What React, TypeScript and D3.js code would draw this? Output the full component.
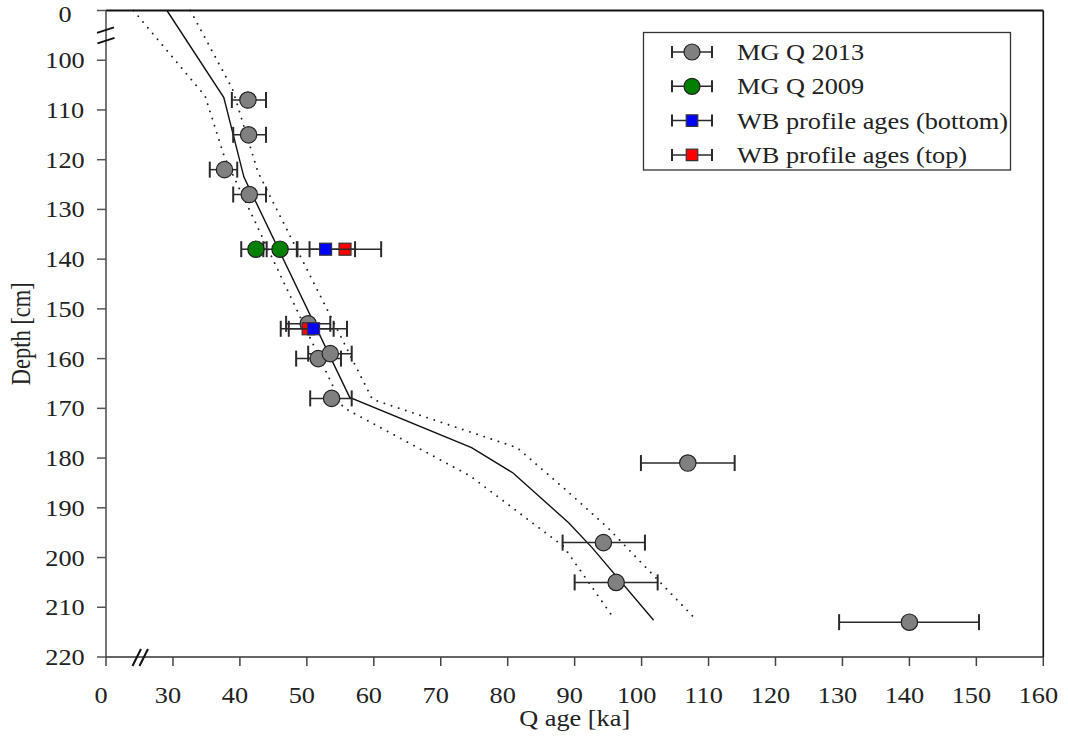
import * as d3 from "d3";

const W = 1068;
const H = 743;

// model age-depth curve (solid) and its bounds (dotted)
const modelAge = [29.1, 37.6, 40.6, 56.4, 74.6, 80.8, 89.1, 92.6, 101.8];
const modelDepth = [0, 107.5, 123.5, 167.8, 177.9, 183.0, 193.0, 198.0, 212.6];
const lowerAge = [24.1, 34.8, 37.7, 55.4, 74.4, 88.3, 96.0];
const lowerDepth = [0, 107.2, 119.5, 169.8, 183.6, 197.7, 212.5];
const upperAge = [32.6, 38.9, 42.7, 59.8, 81.4, 88.6, 94.8, 108.0];
const upperDepth = [0, 105.8, 122.5, 168.2, 177.9, 186.3, 193.8, 212.3];

// MG Q 2013
const mg2013Age = [41.2, 41.3, 37.7, 41.4, 50.2, 51.7, 53.5, 53.7, 106.9, 94.3, 96.2, 140.0];
const mg2013Depth = [108, 115, 122, 127, 153, 160, 159, 168, 181, 197, 205, 213];
const mg2013Lo = [38.8, 39.0, 35.5, 39.0, 46.9, 48.4, 50.2, 50.5, 99.9, 88.2, 90.0, 129.5];
const mg2013Hi = [43.9, 43.9, 39.6, 43.9, 53.5, 55.1, 56.7, 56.7, 113.9, 100.5, 102.4, 150.4];

// MG Q 2009
const mg2009Age = [42.4, 46.0];
const mg2009Depth = [138, 138];
const mg2009Lo = [40.2, 43.5];
const mg2009Hi = [44.0, 48.6];

// WB profile ages (bottom)
const wbBottomAge = [52.8, 51.0];
const wbBottomDepth = [138, 154];
const wbBottomLo = [48.5, 46.1];
const wbBottomHi = [57.2, 56.0];

// WB profile ages (top)
const wbTopAge = [55.7, 50.2];
const wbTopDepth = [138, 154];
const wbTopLo = [50.4, 47.3];
const wbTopHi = [61.1, 54.0];

const xTicks = [0, 30, 40, 50, 60, 70, 80, 90, 100, 110, 120, 130, 140, 150, 160];
const yTicks = [0, 100, 110, 120, 130, 140, 150, 160, 170, 180, 190, 200, 210, 220];

const legendLabels = ["MG Q 2013", "MG Q 2009", "WB profile ages (bottom)", "WB profile ages (top)"];

const FONT = "'Liberation Serif', 'Times New Roman', serif";
const STRETCH = 1.17;

function SText({ x, y, anchor = "start", size = 22.5, rotate = false, children }) {
  const tf = rotate
    ? `translate(${x},${y}) rotate(-90) scale(1,${STRETCH})`
    : `translate(${x},${y}) scale(${STRETCH},1)`;
  return (
    <text transform={tf} textAnchor={anchor} fontFamily={FONT} fontSize={size} fill="#222">
      {children}
    </text>
  );
}

function ErrBar({ x1, x2, y, h = 8 }) {
  return (
    <g stroke="#2a2a2a">
      <line x1={x1} x2={x2} y1={y} y2={y} strokeWidth={1.5} />
      <line x1={x1} x2={x1} y1={y - h} y2={y + h} strokeWidth={2} />
      <line x1={x2} x2={x2} y1={y - h} y2={y + h} strokeWidth={2} />
    </g>
  );
}

function Marker({ kind, color, cx, cy, r = 8.2, s = 12 }) {
  if (kind === "circle")
    return <circle cx={cx} cy={cy} r={r} fill={color} stroke="#222" strokeWidth={1.2} />;
  return <rect x={cx - s / 2} y={cy - s / 2} width={s} height={s} fill={color} stroke="#333" strokeWidth={1.2} />;
}

export default function App() {
  const x = d3.scaleLinear().domain([0, 20, 160]).range([106, 106, 1043.3]);
  const y = d3.scaleLinear().domain([0, 90, 220]).range([10.5, 10.5, 657]);

  const line = d3.line<number>()
    .x(d => d[0])
    .y(d => d[1]);

  const path = (ages, depths) => line(ages.map((a, i) => [x(a), y(depths[i])]));

  const series = [
    { kind: "circle", color: "#808080", age: mg2013Age, depth: mg2013Depth, lo: mg2013Lo, hi: mg2013Hi },
    { kind: "circle", color: "#007f00", age: mg2009Age, depth: mg2009Depth, lo: mg2009Lo, hi: mg2009Hi },
    { kind: "square", color: "#ff0000", age: wbTopAge, depth: wbTopDepth, lo: wbTopLo, hi: wbTopHi },
    { kind: "square", color: "#0000ff", age: wbBottomAge, depth: wbBottomDepth, lo: wbBottomLo, hi: wbBottomHi },
  ];
  const legendSeries = [series[0], series[1], series[3], series[2]];

  const x0 = x(0), x1 = x(160), y0 = y(0), y1 = y(220);
  const yBreak = (y(0) + y(100)) / 2;
  const xBreak = (x(0) + x(30)) / 2;

  return (
    <svg width={W} height={H} style={{ position: "absolute", left: 0, top: 0, background: "#fff" }}>
      {/* model curves */}
      <path d={path(lowerAge, lowerDepth)} fill="none" stroke="#222" strokeWidth={1.9} strokeDasharray="0.01 7.5" strokeLinecap="round" />
      <path d={path(upperAge, upperDepth)} fill="none" stroke="#222" strokeWidth={1.9} strokeDasharray="0.01 7.5" strokeLinecap="round" />
      <path d={path(modelAge, modelDepth)} fill="none" stroke="#111" strokeWidth={1.4} />

      {/* frame and axes */}
      <line x1={x0} x2={x1} y1={y0} y2={y0} stroke="#111" strokeWidth={2} />
      <line x1={x1} x2={x1} y1={y0} y2={y1} stroke="#111" strokeWidth={1.6} />
      <line x1={x0} x2={x0} y1={y0} y2={y1} stroke="#555" strokeWidth={1.6} />
      <line x1={x0} x2={x1} y1={y1} y2={y1} stroke="#333" strokeWidth={1.6} />

      {xTicks.map(t => (
        <g key={"xt" + t}>
          <line x1={x(t)} x2={x(t)} y1={y1} y2={y1 + 9} stroke="#444" strokeWidth={1.5} />
          <SText x={x(t) - 5} y={703} anchor="middle">{t}</SText>
        </g>
      ))}
      {yTicks.map(t => (
        <g key={"yt" + t}>
          <line x1={x0 - 9} x2={x0} y1={y(t)} y2={y(t)} stroke="#555" strokeWidth={1.5} />
          <SText x={65} y={y(t) + (t === 0 ? 11 : 8)} anchor="middle">{t}</SText>
        </g>
      ))}

      {/* axis breaks */}
      <g stroke="#111" strokeWidth={2}>
        <line x1={x0 - 9} y1={yBreak - 2.5} x2={x0 + 8} y2={yBreak - 8} />
        <line x1={x0 - 8.5} y1={yBreak + 8} x2={x0 + 8.5} y2={yBreak + 2.5} />
        <line x1={xBreak - 7} y1={y1 + 9} x2={xBreak + 1.5} y2={y1 - 8} />
        <line x1={xBreak} y1={y1 + 9} x2={xBreak + 8.5} y2={y1 - 8} />
      </g>

      {/* data */}
      {series.map((s, si) => (
        <g key={"s" + si}>
          {s.age.map((a, i) => (
            <ErrBar key={"e" + i} x1={x(s.lo[i])} x2={x(s.hi[i])} y={y(s.depth[i])} />
          ))}
          {s.age.map((a, i) => (
            <Marker key={"m" + i} kind={s.kind} color={s.color} cx={x(a)} cy={y(s.depth[i])} />
          ))}
        </g>
      ))}

      {/* axis titles */}
      <SText x={(x0 + x1) / 2} y={726} anchor="middle">Q age [ka]</SText>
      <SText x={30} y={(y0 + y1) / 2} anchor="middle" rotate>Depth [cm]</SText>

      {/* legend */}
      <rect x={643.5} y={32.5} width={367} height={137.5} fill="#fff" stroke="#333" strokeWidth={1.3} />
      {legendSeries.map((s, i) => {
        const cy = 52 + i * 34.3;
        return (
          <g key={"l" + i}>
            <ErrBar x1={672} x2={712} y={cy} h={6} />
            <Marker kind={s.kind} color={s.color} cx={692} cy={cy} r={8} s={11.5} />
            <SText x={737} y={cy + 8}>{legendLabels[i]}</SText>
          </g>
        );
      })}
    </svg>
  );
}
